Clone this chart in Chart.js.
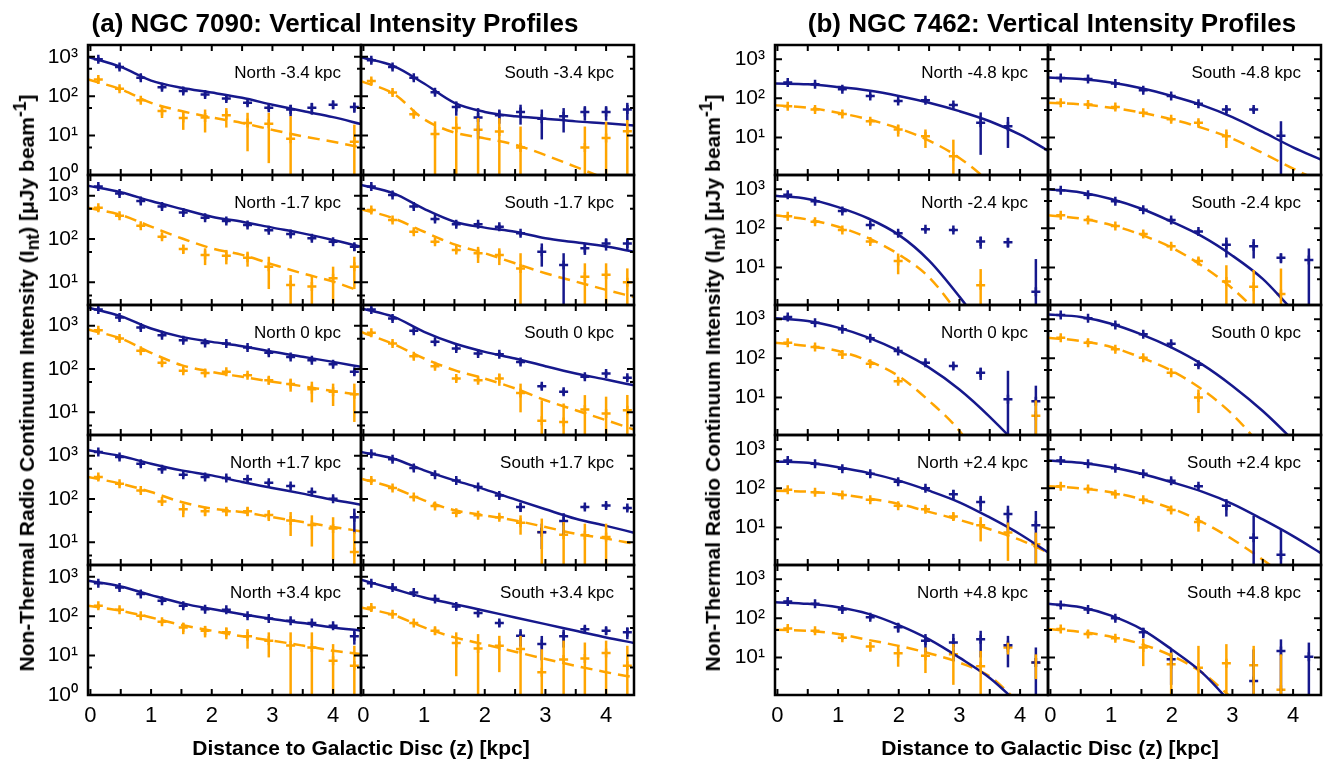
<!DOCTYPE html>
<html>
<head>
<meta charset="utf-8">
<script src="https://cdn.jsdelivr.net/npm/chart.js@4.4.1/dist/chart.umd.min.js"></script>
<style>
body { margin: 0; background: #fff; }
#wrap { position: relative; width: 1331px; height: 762px; overflow: hidden; font-family: "Liberation Sans", Arial, Helvetica, sans-serif; }
canvas { position: absolute; }
.t { position: absolute; white-space: nowrap; color: #000; transform: translate(-50%, -50%); z-index: 2; }
.title { font-weight: bold; font-size: 26px; }
.xlab { font-weight: bold; font-size: 21px; }
.ylab { font-weight: bold; font-size: 21px; transform: translate(-50%, -50%) rotate(-90deg); }
.plab { font-size: 17px; transform: translate(-100%, -50%); }
</style>
</head>
<body>
<div id="wrap"></div>
<script>
// distances (kpc) of the measured points and of the fitted curves
const zA = [0.13, 0.48, 0.83, 1.18, 1.53, 1.89, 2.24, 2.59, 2.94, 3.30, 3.65, 4.00, 4.35]
const zB = [0.17, 0.62, 1.07, 1.53, 1.99, 2.44, 2.90, 3.35, 3.80, 4.26]
const zFit = [-0.04, 0.5, 1, 1.5, 2, 2.5, 3, 3.5, 4, 4.46]

// tick values
const xMajor = [0, 1, 2, 3, 4]
const xMinor = [0.5, 1.5, 2.5, 3.5]
const yMajor = [1, 10, 100, 1000]
const yMinor = [5, 50, 500]

// panel names
const offsetsA = ['-3.4', '-1.7', '0', '+1.7', '+3.4']
const offsetsB = ['-4.8', '-2.4', '0', '+2.4', '+4.8']

// ---- NGC 7090 ----
const a1nBlue = [870,555,296,170,135,111,88,68,51,46,51,61,53]
const a1nBlueErr = [130,80,40,25,20,16,13,10,8,15,17,13,15]
const a1nOrange = [268,155,79,42,28,29,33,21,20,8.3,null,null,7]
const a1nOrangeErr = [35,20,10,14,14,17,17,17,18,23,null,null,12]
const a1nBlueFit = [1000,555,250,164,124,91,61,42,29.5,19.7]
const a1nOrangeFit = [268,150,68,42,29,21,14,9.6,7,5]

const a1sBlue = [820,555,296,127,53,29,33,40,27,31,40,40,46]
const a1sBlueErr = [120,80,40,18,21,21,13,21,19,19,16,16,22]
const a1sOrange = [243,124,35,11,15.5,14,12.8,5,null,null,5,8.7,13]
const a1sOrangeErr = [35,18,6,12,15.5,14,15,12,null,null,12,14,12]
const a1sBlueFit = [980,580,210,68,40,31,27,23,20.5,18]
const a1sOrangeFit = [243,115,26,12,8.5,5.9,3.2,1.6,0.8,0.45]

const a2nBlue = [1620,1130,750,560,410,310,260,210,160,130,104,87,66]
const a2nBlueErr = [200,140,90,65,50,37,31,25,19,16,13,11,13]
const a2nOrange = [525,345,203,113,59,43,41,37,23,8.7,8,12.4,23]
const a2nOrangeErr = [60,40,24,14,14,18,15,14,16,6,6.7,10.6,16]
const a2nBlueFit = [1700,1200,755,495,327,250,183,135,95,66]
const a2nOrangeFit = [525,360,193,104,61,43,26,16,10.4,6.1]

const a2sBlue = [1620,1035,560,290,218,218,193,135,51,25,61,79,79]
const a2sBlueErr = [190,120,65,35,26,26,23,16,28,22,18,25,25]
const a2sOrange = [467,275,147,87,56,47,43,21,null,null,13.5,15,10]
const a2sOrangeErr = [55,33,18,10,8,19,18,26,null,null,14,12.5,11]
const a2sBlueFit = [1770,1130,495,251,183,147,104,84,67,51]
const a2sOrangeFit = [490,300,147,75,47,27.5,16.2,10.4,6.7,4.6]

const a3nBlue = [2360,1550,908,605,462,400,387,314,236,190,160,129,86]
const a3nBlueErr = [280,185,110,72,55,48,46,38,28,23,19,16,14]
const a3nOrange = [787,506,263,139,91,81,86,72,55,45,34,30,26]
const a3nOrangeErr = [95,60,32,17,11,10,10,9,11,15,17,16,20]
const a3nBlueFit = [2630,1660,860,552,423,336,249,191,146,112]
const a3nOrangeFit = [815,506,236,123,86,66,51,40,31,25]

const a3sBlue = [2360,1460,760,424,297,228,220,146,40,30,66,79,63]
const a3sBlueErr = [280,175,90,50,36,27,26,18,6,5,8,10,8]
const a3sOrange = [684,388,198,116,60,55,60,28,6.4,6,11.6,9.4,11.2]
const a3sOrangeErr = [80,46,24,14,8,8,19,18,12.6,10,13.4,13.6,14]
const a3sBlueFit = [2500,1590,722,388,249,175,116,79,57,42]
const a3sOrangeFit = [722,374,175,94,60,35.6,19,11.2,6.6,4]

const a4nBlue = [1215,930,653,484,364,322,305,284,238,200,145,102,38]
const a4nBlueErr = [145,110,78,58,44,38,37,34,29,24,17,12,22]
const a4nOrange = [322,226,158,88,58,52,52,52,43,32,25,21,6]
const a4nOrangeErr = [40,28,19,11,20,12,12,12,12,18,17,17,11.5]
const a4nBlueFit = [1330,980,653,458,351,247,180,133,96,74]
const a4nOrangeFit = [322,226,145,85,60,50,38,29.5,22.6,18]

const a4sBlue = [1110,822,519,364,269,189,121,65,17,31,65,71,62]
const a4sBlueErr = [130,100,62,44,32,23,15,15,10,16,8,9,8]
const a4sOrange = [269,180,111,69,48,42,38,28.5,17.4,15,14.5,13.3,null]
const a4sOrangeErr = [32,22,13,8,6,5,5,13.5,18,14.5,12.5,13.7,null]
const a4sBlueFit = [1215,850,458,269,167,98,58,35,24,16.7]
const a4sOrangeFit = [295,180,93,55,42,32,22.6,15.8,12.2,9.3]

const a5nBlue = [692,537,365,247,184,151,146,103,88,77,67,57,31]
const a5nBlueErr = [80,65,44,30,22,18,18,12,11,9,8,7,12]
const a5nOrange = [184,146,103,72,52,43,39,31,24,18,16,7.4,5.5]
const a5nOrangeErr = [22,18,12,9,17,14,13,16,15,21,23,12.2,12.3]
const a5nBlueFit = [794,570,344,215,152,113,85,67,52,43]
const a5nOrangeFit = [184,138,93,60,43,31,24,18,13.3,11]

const a5sBlue = [692,537,400,272,177,120,67,32,19.6,31,47,43,39]
const a5sBlueErr = [80,65,48,33,21,15,12,15,12,15,10,9,13]
const a5sOrange = [167,113,67,43,21,15.2,17.8,14.7,3.8,8,8.5,11.6,5.5]
const a5sOrangeErr = [20,14,8,9,18,20,14,17,10.7,16,13,12.4,12.3]
const a5sBlueFit = [841,490,300,203,138,93,63,43,29,21]
const a5sOrangeFit = [167,107,52,29,19.3,12.6,8.2,5.5,3.8,2.8]

// ---- NGC 7462 ----
const b1nBlue = [253,230,170,115,85,89,67,23.6,19.4,null]
const b1nBlueErr = [30,28,20,14,10,11,8,20,14,null]
const b1nOrange = [63,52,40,26,16,10.7,3.3,null,null,null]
const b1nOrangeErr = [8,6,5,4,5.5,5.3,5.5,null,null,null]
const b1nBlueFit = [239,229,195,158,115,77,47,26,11.8,4.6]
const b1nOrangeFit = [67,57.5,43,29,17,8.3,3,0.7,0.11,0.014]

const b1sBlue = [328,310,239,161,115,73,52,52,11,null]
const b1sBlueErr = [38,36,28,19,14,9,10,8,15,null]
const b1sOrange = [77,70,60,43,29,23.6,10.7,null,null,null]
const b1sOrangeErr = [9,8,7,5,4,4,5.3,null,null,null]
const b1sBlueFit = [340,310,253,181,115,67,33,13.8,5.6,2.7]
const b1sOrangeFit = [77,70,57.5,43,29,17.6,9.3,4,1.6,0.74]

const b2nBlue = [722,490,277,121,75,94,91,46,44,2.4]
const b2nBlueErr = [85,58,33,15,9,11,11,16,12,14]
const b2nOrange = [203,147,91,46,14.7,null,null,3.5,null,null]
const b2nOrangeErr = [24,17,11,6,8,null,null,5.6,null,null]
const b2nBlueFit = [681,562,348,178,68,15,1.8,0.16,0.01,0.001]
const b2nOrangeFit = [215,168,110,56,21.5,5.6,0.6,0.05,0.003,0.0002]

const b2sBlue = [944,722,490,299,162,83,38,35,17.8,15.6]
const b2sBlueErr = [110,85,58,35,19,10,20,18,5,15]
const b2sOrange = [215,162,114,72,35,14.7,4.4,3.2,2.1,null]
const b2sOrangeErr = [25,19,13,9,5,3,7,5.4,7.3,null]
const b2sBlueFit = [1000,826,562,316,147,62,20,5.1,0.8,0.2]
const b2sOrangeFit = [215,178,121,68,32,11,2.9,0.5,0.05,0.005]

const b3nBlue = [1135,813,550,324,154,77,64,43,9,8]
const b3nBlueErr = [130,95,65,38,18,10,9,15,39,12]
const b3nOrange = [251,195,126,73,26,null,null,null,null,3.4]
const b3nOrangeErr = [30,23,15,9,4,null,null,null,null,5]
const b3nBlueFit = [1050,897,607,337,154,58,16,3.2,0.5,0.06]
const b3nOrangeFit = [251,206,154,86,35,8.2,1.4,0.1,0.005,0.0002]

const b3sBlue = [1276,1050,708,410,237,68,null,null,null,null]
const b3sBlueErr = [150,125,85,48,28,9,null,null,null,null]
const b3sOrange = [337,251,170,104,43,10,null,null,null,null]
const b3sOrangeErr = [40,30,20,12,6,6,null,null,null,null]
const b3sBlueFit = [1320,1135,767,410,187,70,19.7,4.5,0.8,0.14]
const b3sOrangeFit = [337,277,195,104,48,16,3.7,0.5,0.05,0.005]

const b4nBlue = [515,424,316,236,148,100,71,45,22,11.4]
const b4nBlueErr = [60,50,38,28,18,12,20,19,14,15]
const b4nOrange = [92,79,67,51,36,29,19,11.4,7.4,3.7]
const b4nOrangeErr = [11,9,8,6,5,4,4,7,6,3.7]
const b4nBlueFit = [486,449,347,248,157,87,44,18,6.7,2.3]
const b4nOrangeFit = [87,82,71,55,40,25,15.6,9,4.8,2.3]

const b4sBlue = [515,424,327,236,157,113,36,5.5,2.0,null]
const b4sBlueErr = [60,50,39,28,19,14,17,14.3,7,null]
const b4sOrange = [113,96,71,51,28,13.8,null,null,null,null]
const b4sOrangeErr = [13,11,8,6,4,6,null,null,null,null]
const b4sBlueFit = [515,449,347,236,143,82,40,16,6.0,2.2]
const b4sOrangeFit = [113,100,79,53,30.5,13.8,5,1.5,0.4,0.1]

const b5nBlue = [269,234,167,106,59,26.6,24,29,20.6,7.4]
const b5nBlueErr = [32,28,20,13,16,13,16,19,15,10.6]
const b5nOrange = [55,48,32,19,12.8,11,12,6.0,17.9,7.4]
const b5nOrangeErr = [7,6,4,5,7,7,10,8.7,6,4.6]
const b5nBlueFit = [258,234,192,130,67,29,9.9,3.0,0.6,0.13]
const b5nOrangeFit = [51,48,40,28,19.8,12.8,7.4,3.3,0.7,0.3]

const b5sBlue = [220,167,100,44,9,null,null,2.5,14.7,10.5]
const b5sBlueErr = [26,20,12,13,7,null,null,13.5,14.3,13.5]
const b5sOrange = [53,40,31,18,6.7,5.5,7.1,6.3,1.5,null]
const b5sOrangeErr = [6,5,4,12,6.6,14.3,14.8,13.5,10.5,null]
const b5sBlueFit = [234,192,117,53,16,4.1,0.6,0.06,0.003,0.0001]
const b5sOrangeFit = [53,45,34,22,11,4.1,0.9,0.2,0.03,0.003]

// y ranges per row
const yRangeA = [[1, 2000], [3, 3000], [3, 3000], [3, 3000], [1, 2000]]
const yRangeB = [[1.1, 2300], [1.1, 2300], [1.1, 2300], [1.1, 2300], [1.1, 2300]]

const BLUE = '#16188c'
const ORANGE = '#ffa500'
const SUP = ['\u2070', '\u00b9', '\u00b2', '\u00b3']
const PW = 273, PH = 130
const rowTop = [45, 175, 305, 435, 565]
const wrap = document.getElementById('wrap')

Chart.defaults.font.family = '"Liberation Sans", Arial, Helvetica, sans-serif'
Chart.defaults.color = '#000'

function P(x, blue, blueErr, orange, orangeErr, blueFit, orangeFit) {
    return { x, blue, blueErr, orange, orangeErr, blueFit, orangeFit }
}

const groupA = [
    [P(zA, a1nBlue, a1nBlueErr, a1nOrange, a1nOrangeErr, a1nBlueFit, a1nOrangeFit), P(zA, a1sBlue, a1sBlueErr, a1sOrange, a1sOrangeErr, a1sBlueFit, a1sOrangeFit)],
    [P(zA, a2nBlue, a2nBlueErr, a2nOrange, a2nOrangeErr, a2nBlueFit, a2nOrangeFit), P(zA, a2sBlue, a2sBlueErr, a2sOrange, a2sOrangeErr, a2sBlueFit, a2sOrangeFit)],
    [P(zA, a3nBlue, a3nBlueErr, a3nOrange, a3nOrangeErr, a3nBlueFit, a3nOrangeFit), P(zA, a3sBlue, a3sBlueErr, a3sOrange, a3sOrangeErr, a3sBlueFit, a3sOrangeFit)],
    [P(zA, a4nBlue, a4nBlueErr, a4nOrange, a4nOrangeErr, a4nBlueFit, a4nOrangeFit), P(zA, a4sBlue, a4sBlueErr, a4sOrange, a4sOrangeErr, a4sBlueFit, a4sOrangeFit)],
    [P(zA, a5nBlue, a5nBlueErr, a5nOrange, a5nOrangeErr, a5nBlueFit, a5nOrangeFit), P(zA, a5sBlue, a5sBlueErr, a5sOrange, a5sOrangeErr, a5sBlueFit, a5sOrangeFit)]
]
const groupB = [
    [P(zB, b1nBlue, b1nBlueErr, b1nOrange, b1nOrangeErr, b1nBlueFit, b1nOrangeFit), P(zB, b1sBlue, b1sBlueErr, b1sOrange, b1sOrangeErr, b1sBlueFit, b1sOrangeFit)],
    [P(zB, b2nBlue, b2nBlueErr, b2nOrange, b2nOrangeErr, b2nBlueFit, b2nOrangeFit), P(zB, b2sBlue, b2sBlueErr, b2sOrange, b2sOrangeErr, b2sBlueFit, b2sOrangeFit)],
    [P(zB, b3nBlue, b3nBlueErr, b3nOrange, b3nOrangeErr, b3nBlueFit, b3nOrangeFit), P(zB, b3sBlue, b3sBlueErr, b3sOrange, b3sOrangeErr, b3sBlueFit, b3sOrangeFit)],
    [P(zB, b4nBlue, b4nBlueErr, b4nOrange, b4nOrangeErr, b4nBlueFit, b4nOrangeFit), P(zB, b4sBlue, b4sBlueErr, b4sOrange, b4sOrangeErr, b4sBlueFit, b4sOrangeFit)],
    [P(zB, b5nBlue, b5nBlueErr, b5nOrange, b5nOrangeErr, b5nBlueFit, b5nOrangeFit), P(zB, b5sBlue, b5sBlueErr, b5sOrange, b5sOrangeErr, b5sBlueFit, b5sOrangeFit)]
]

// error bars, inward ticks on every side and the black frame
const framePlugin = {
    id: 'frame',
    afterDatasetsDraw(chart) {
        const ctx = chart.ctx
        const a = chart.chartArea
        const xs = chart.scales.x, ys = chart.scales.y
        ctx.save()
        ctx.beginPath()
        ctx.rect(a.left, a.top, a.right - a.left, a.bottom - a.top)
        ctx.clip()
        ctx.lineWidth = 2.5
        chart.data.datasets.forEach(ds => {
            if (!ds.errors) return
            ctx.strokeStyle = ds.borderColor
            ds.data.forEach((p, i) => {
                const e = ds.errors[i]
                if (p.y == null || e == null) return
                const px = xs.getPixelForValue(p.x)
                const top = ys.getPixelForValue(p.y + e)
                const bot = p.y - e > 0 ? ys.getPixelForValue(p.y - e) : a.bottom
                ctx.beginPath()
                ctx.moveTo(px, top)
                ctx.lineTo(px, bot)
                ctx.stroke()
            })
        })
        ctx.restore()

        ctx.save()
        ctx.strokeStyle = '#000'
        ctx.lineWidth = 2
        ctx.beginPath()
        xMajor.concat(xMinor).forEach(v => {
            if (v < xs.min || v > xs.max) return
            const px = xs.getPixelForValue(v)
            ctx.moveTo(px, a.bottom); ctx.lineTo(px, a.bottom - 6)
            ctx.moveTo(px, a.top); ctx.lineTo(px, a.top + 6)
        })
        yMajor.forEach(v => {
            if (v < ys.min || v > ys.max) return
            const py = ys.getPixelForValue(v)
            ctx.moveTo(a.left, py); ctx.lineTo(a.left + 7, py)
            ctx.moveTo(a.right, py); ctx.lineTo(a.right - 7, py)
        })
        yMinor.forEach(v => {
            if (v < ys.min || v > ys.max) return
            const py = ys.getPixelForValue(v)
            ctx.moveTo(a.left, py); ctx.lineTo(a.left + 4, py)
            ctx.moveTo(a.right, py); ctx.lineTo(a.right - 4, py)
        })
        ctx.stroke()
        ctx.lineWidth = 2.5
        ctx.strokeRect(a.left, a.top, a.right - a.left, a.bottom - a.top)
        ctx.restore()
    }
}

function pts(xs, ys) {
    return xs.map((x, i) => ({ x: x, y: ys[i] }))
}

function plotarPainel(d, left, top, range, showY, showX) {
    const padL = showY ? 64 : 20, padR = 20, padT = 30, padB = showX ? 50 : 30
    const cv = document.createElement('canvas')
    cv.width = PW + padL + padR
    cv.height = PH + padT + padB
    cv.style.left = (left - padL) + 'px'
    cv.style.top = (top - padT) + 'px'
    wrap.appendChild(cv)

    new Chart(cv, {
        type: 'scatter',
        data: {
            datasets: [
                { type: 'line', data: pts(zFit, d.blueFit), borderColor: BLUE, borderWidth: 2.5, pointRadius: 0, cubicInterpolationMode: 'monotone', fill: false },
                { type: 'line', data: pts(zFit, d.orangeFit), borderColor: ORANGE, borderWidth: 2.5, borderDash: [12, 7], pointRadius: 0, cubicInterpolationMode: 'monotone', fill: false },
                { data: pts(d.x, d.blue), errors: d.blueErr, borderColor: BLUE, backgroundColor: BLUE, pointStyle: 'cross', pointRadius: 4.5, borderWidth: 2.5 },
                { data: pts(d.x, d.orange), errors: d.orangeErr, borderColor: ORANGE, backgroundColor: ORANGE, pointStyle: 'cross', pointRadius: 4.5, borderWidth: 2.5 }
            ]
        },
        options: {
            responsive: false,
            animation: false,
            events: [],
            layout: { padding: { top: padT, right: padR, left: 0, bottom: 0 } },
            plugins: { legend: { display: false }, tooltip: { enabled: false } },
            scales: {
                x: {
                    type: 'linear', min: -0.04, max: 4.46,
                    grid: { display: false, drawTicks: false },
                    border: { display: false },
                    afterBuildTicks: s => { s.ticks = xMajor.map(v => ({ value: v })) },
                    ticks: { display: showX, padding: 8, font: { size: 22 }, callback: v => String(v) },
                    afterFit: s => { s.height = padB }
                },
                y: {
                    type: 'logarithmic', min: range[0], max: range[1],
                    grid: { display: false, drawTicks: false },
                    border: { display: false },
                    afterBuildTicks: s => { s.ticks = yMajor.filter(v => v >= s.min && v <= s.max).map(v => ({ value: v })) },
                    ticks: { display: showY, padding: 10, font: { size: 21 }, autoSkip: false, callback: v => '10' + SUP[Math.round(Math.log10(v))] },
                    afterFit: s => { s.width = padL }
                }
            }
        },
        plugins: [framePlugin]
    })
}

function texto(cls, html, x, y) {
    const el = document.createElement('div')
    el.className = 't ' + cls
    el.innerHTML = html
    el.style.left = x + 'px'
    el.style.top = y + 'px'
    wrap.appendChild(el)
}

function plotarGrupo(group, cols, ranges, offsets) {
    for (let r = 0; r < 5; r++) {
        for (let c = 0; c < 2; c++) {
            plotarPainel(group[r][c], cols[c], rowTop[r], ranges[r], c === 0, r === 4)
            const side = c === 0 ? 'North' : 'South'
            texto('plab', side + ' ' + offsets[r] + ' kpc', cols[c] + PW - 20, rowTop[r] + 28)
        }
    }
}

plotarGrupo(groupA, [88, 361], yRangeA, offsetsA)
plotarGrupo(groupB, [775, 1048], yRangeB, offsetsB)

texto('title', '(a) NGC 7090: Vertical Intensity Profiles', 335, 23)
texto('title', '(b) NGC 7462: Vertical Intensity Profiles', 1052, 23)
texto('xlab', 'Distance to Galactic Disc (z) [kpc]', 361, 748)
texto('xlab', 'Distance to Galactic Disc (z) [kpc]', 1050, 748)
const yTitle = 'Non-Thermal Radio Continuum Intensity (I<sub>nt</sub>) [&mu;Jy beam<sup>-1</sup>]'
texto('ylab', yTitle, 27, 383)
texto('ylab', yTitle, 713, 383)
</script>
</body>
</html>
